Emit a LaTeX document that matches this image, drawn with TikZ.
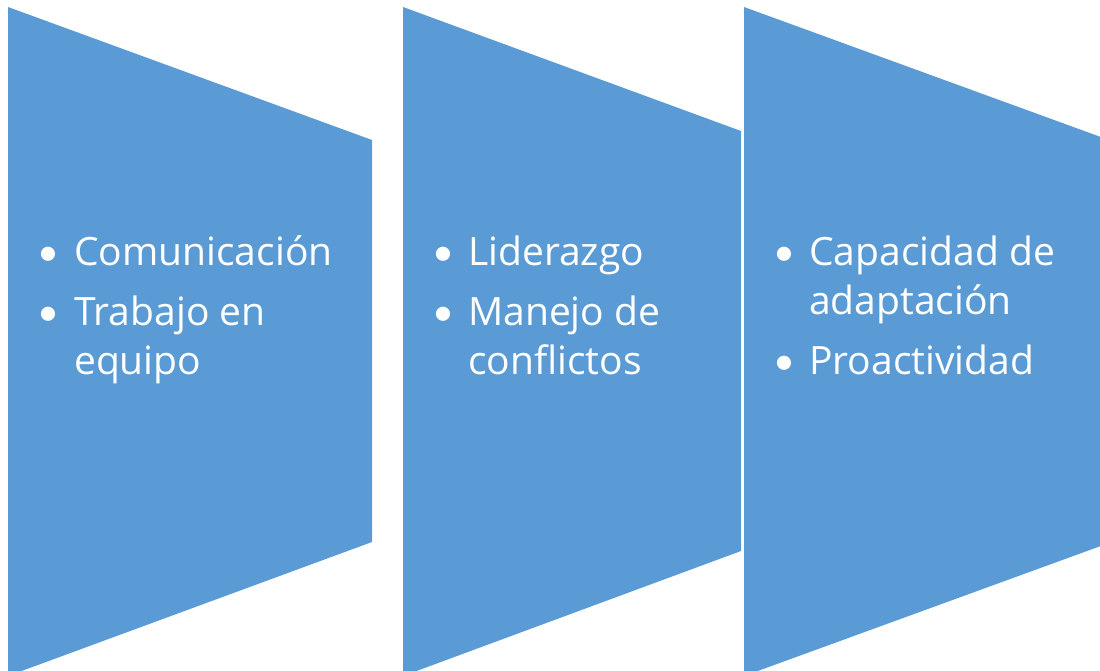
\documentclass[tikz,border=0pt]{standalone}
\usepackage{fontspec}
\setmainfont{Open Sans}
\newfontfamily\bulletfont{Carlito}
\definecolor{chevblue}{HTML}{5B9BD5}
\begin{document}
\begin{tikzpicture}[x=1pt,y=-1pt,
  panel/.style={fill=chevblue,draw=none},
  txt/.style={text=white,font=\fontsize{39}{49}\selectfont,anchor=base west,inner sep=0pt},
  bul/.style={text=white,font=\bulletfont\fontsize{40}{49}\selectfont,anchor=base west,inner sep=0pt}]
\useasboundingbox (0,0) rectangle (1100,671);
\begin{scope}
\clip (0,0) rectangle (1100,671);
\fill[panel] (8,7) -- (372,140) -- (372,542) -- (8,676) -- cycle;
\fill[panel] (403,7) -- (741,131) -- (741,551) -- (403,676) -- cycle;
\fill[panel] (744,7) -- (1120,144) -- (1120,539) -- (744,676) -- cycle;
\end{scope}
% column 1
\node[bul] (b11) at (38,265) {•};
\node[txt] (t11) at (74,265) {Comunicación};
\node[bul] (b12) at (38,325) {•};
\node[txt] (t12) at (74,325) {Trabajo en};
\node[txt] (t13) at (74,374) {equipo};
% column 2
\node[bul] (b21) at (433,265) {•};
\node[txt] (t21) at (468,265) {Liderazgo};
\node[bul] (b22) at (433,325) {•};
\node[txt] (t22) at (468,325) {Manejo de};
\node[txt] (t23) at (468,374) {conflictos};
% column 3
\node[bul] (b31) at (774,265) {•};
\node[txt] (t31) at (809,265) {Capacidad de};
\node[txt] (t32) at (809,314) {adaptación};
\node[bul] (b33) at (774,374) {•};
\node[txt] (t33) at (809,374) {Proactividad};
\end{tikzpicture}
\end{document}
